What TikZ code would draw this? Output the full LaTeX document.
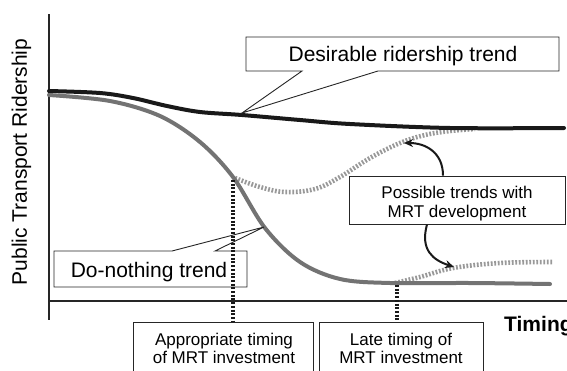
\documentclass[tikz,border=0pt]{standalone}
\usepackage{fontspec}
\setmainfont{Liberation Sans}
\usetikzlibrary{arrows.meta}
\definecolor{curvegray}{gray}{0.45}
\definecolor{dotgray}{gray}{0.6}
\tikzset{
  big/.style={font=\fontsize{21}{25}\selectfont},
  small/.style={font=\fontsize{17}{18}\selectfont},
  axis/.style={line width=2.6pt, black!85},
  desire/.style={line width=4pt, black!90, line cap=round},
  nothing/.style={line width=4pt, curvegray, line cap=round},
  possible/.style={line width=4.6pt, dotgray, dash pattern=on 1.8pt off 1.7pt},
  vdots/.style={line width=3.8pt, black!90, dash pattern=on 2pt off 1.7pt},
  callout/.style={draw=black!85, line width=0.9pt, fill=white},
  pointer/.style={line width=2pt, black!90, -{Stealth[length=9pt,width=8pt]}},
  txt/.style={anchor=base, inner sep=0pt}
}
\begin{document}
\begin{tikzpicture}[x=1pt,y=-1pt]
\useasboundingbox (0,0) rectangle (567,370);
% axes
\coordinate (ytop) at (49,14);
\coordinate (ybot) at (49,320);
\coordinate (xl) at (49,301);
\coordinate (xr) at (575,301);
\draw[axis] (ytop) -- (ybot);
\draw[axis] (xl) -- (xr);
\node[big, txt, rotate=90] (ylab) at (27,162) {Public Transport Ridership};
\node[big, txt, font=\fontsize{21}{25}\selectfont\bfseries, anchor=base west] (xlab) at (504,331) {Timing};
% possible trends (dotted)
\draw[possible] plot[smooth, tension=0.6] coordinates {(235,178) (260,187) (285,192) (315,189) (340,177) (370,158) (400,143) (425,135) (450,131) (475,129)};
\draw[possible] plot[smooth, tension=0.6] coordinates {(395,283) (420,277) (453,268) (500,263) (553,262)};
% desirable curve
\draw[desire] plot[smooth, tension=0.55] coordinates {(49,91) (100,93) (133,98) (167,106) (200,112) (242,115) (300,120) (350,124) (450,128) (564,128)};
% do-nothing curve
\draw[nothing] plot[smooth, tension=0.55] coordinates {(49,95) (110,101) (160,116) (200,142) (233,177) (265,228) (300,262) (340,279) (390,283) (470,283) (550,284)};
% desirable callout
\draw[callout] (246,37) -- (559,37) -- (559,71) -- (378,71) -- (242,113) -- (302,71) -- (246,71) -- cycle;
\node[big, txt] (desl) at (403,61) {Desirable ridership trend};
% do-nothing callout
\draw[callout] (54,251) -- (172,251) -- (264,227) -- (215,251) -- (247,251) -- (247,287) -- (54,287) -- cycle;
\node[big, txt] (dnl) at (149,277) {Do-nothing trend};
% vertical dotted lines
\coordinate (v1t) at (233,180);
\coordinate (v1b) at (233,321);
\coordinate (v2t) at (397,285);
\coordinate (v2b) at (397,320);
\draw[vdots] (v1t) -- (v1b);
\draw[vdots] (v2t) -- (v2b);
% possible trends box
\node[draw=black!85, line width=0.9pt, fill=white, minimum width=216pt, minimum height=48pt, inner sep=0pt] (pbox) at (457,200) {};
\node[small, txt] (pl1) at (457,198) {Possible trends with};
\node[small, txt] (pl2) at (457,217) {MRT development};
\coordinate (arrA) at (404,143);
\coordinate (arrB) at (454,267);
\draw[pointer] (pbox.north -| 443,0) .. controls (443,152) and (425,143) .. (arrA);
\draw[pointer] (pbox.south -| 427,0) .. controls (420,250) and (433,260) .. (arrB);
% bottom label boxes
\draw[draw=black!85, line width=0.9pt] (133,375) -- (133,322) -- (313,322) -- (313,375);
\node[small, txt] (b1a) at (224,345) {Appropriate timing};
\node[small, txt] (b1b) at (224,363) {of MRT investment};
\draw[draw=black!85, line width=0.9pt] (319,375) -- (319,322) -- (483,322) -- (483,375);
\node[small, txt] (b2a) at (401,345) {Late timing of};
\node[small, txt] (b2b) at (401,363) {MRT investment};
\end{tikzpicture}
\end{document}
